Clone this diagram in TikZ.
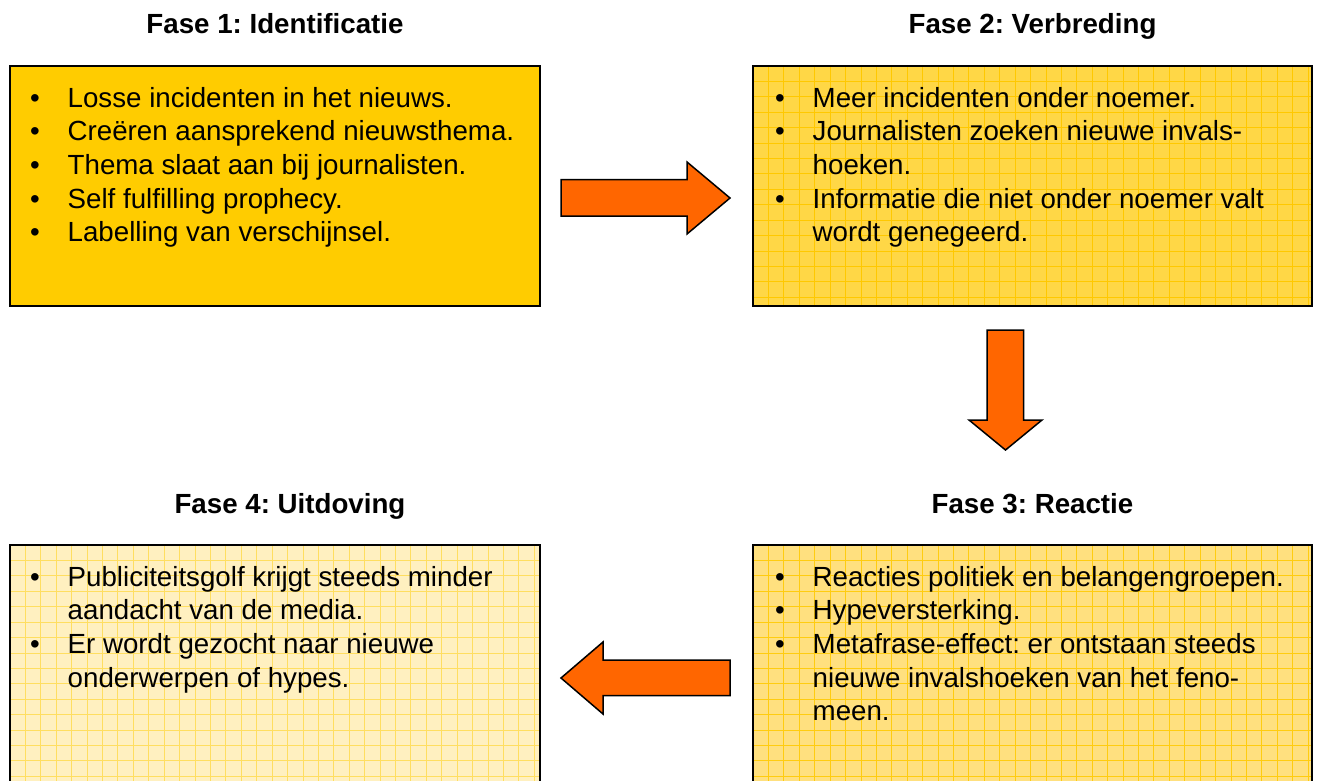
\documentclass[tikz,border=0pt]{standalone}
\usepackage{fontspec}
\setmainfont{Liberation Sans}
\usepackage{array}
\usetikzlibrary{calc}
\frenchspacing

\definecolor{goldA}{HTML}{FFCC00}
\definecolor{goldB}{HTML}{FFD746}
\definecolor{goldC}{HTML}{FFE07F}
\definecolor{goldD}{HTML}{FFF0C0}
\definecolor{gridB}{HTML}{FFC800}
\definecolor{gridC}{HTML}{FFCC10}
\definecolor{gridD}{HTML}{FFDE60}
\definecolor{blockorange}{HTML}{FF6600}

% bulleted list set as a top-aligned table: bullet column + text column
\newcommand\phaselist[1]{{\fontsize{27.7}{33.7}\selectfont
  \begin{tabular}[t]{@{}p{37.5pt}@{}l@{}}#1\end{tabular}}}
\newcommand\bul{\textbullet}

% faint squared paper inside a box node
\newcommand\papergrid[2]{%
  \begin{scope}
    \clip (#1.north west) rectangle (#1.south east);
    \foreach \i in {1,...,37}
      \draw[gridline, #2] ($(#1.north west)+(\i*15.42,0)$) -- ($(#1.south west)+(\i*15.42,0)$);
    \foreach \j in {1,...,17}
      \draw[gridline, #2] ($(#1.north west)+(0,\j*15.42)$) -- ($(#1.north east)+(0,\j*15.42)$);
  \end{scope}
  \draw[frame] (#1.north west) rectangle (#1.south east);}

\tikzset{
  phasebox/.style={rectangle, draw=black, line width=2pt, outer sep=0pt, inner sep=0pt},
  frame/.style={draw=black, line width=2pt},
  gridline/.style={line width=0.9pt},
  heading/.style={font=\bfseries\fontsize{27.7}{33}\selectfont, anchor=base, inner sep=0pt},
  listtext/.style={anchor=base west, inner sep=0pt},
  blockarrow/.style={fill=blockorange, draw=black, line width=1.5pt, line join=miter},
}

\begin{document}
\begin{tikzpicture}[x=1pt, y=-1pt]
\useasboundingbox (0,0) rectangle (1317,780);
\clip (0,0) rectangle (1317,780);

% headings
\node[heading] (h1) at (275,33) {Fase 1: Identificatie};
\node[heading] (h2) at (1032.5,33) {Fase 2: Verbreding};
\node[heading] (h3) at (1032.5,513) {Fase 3: Reactie};
\node[heading] (h4) at (290,513) {Fase 4: Uitdoving};

% phase boxes
\node[phasebox, fill=goldA, minimum width=530pt, minimum height=240pt] (b1) at (275,186) {};
\node[phasebox, fill=goldB, minimum width=559pt, minimum height=240pt] (b2) at (1032.5,186) {};
\node[phasebox, fill=goldC, minimum width=559pt, minimum height=260pt] (b3) at (1032.5,675) {};
\node[phasebox, fill=goldD, minimum width=530pt, minimum height=260pt] (b4) at (275,675) {};

\papergrid{b2}{gridB}
\papergrid{b3}{gridC}
\papergrid{b4}{gridD}

% box contents
\node[listtext] (t1) at ([xshift=20pt,yshift=-41pt]b1.north west) {\phaselist{
  \bul & Losse incidenten in het nieuws.\\
  \bul & Creëren aansprekend nieuwsthema.\\
  \bul & Thema slaat aan bij journalisten.\\
  \bul & Self fulfilling prophecy.\\
  \bul & Labelling van verschijnsel.}};

\node[listtext] (t2) at ([xshift=22pt,yshift=-41pt]b2.north west) {\phaselist{
  \bul & Meer incidenten onder noemer.\\
  \bul & Journalisten zoeken nieuwe invals-\\
       & hoeken.\\
  \bul & Informatie die niet onder noemer valt\\
       & wordt genegeerd.}};

\node[listtext] (t3) at ([xshift=22pt,yshift=-41pt]b3.north west) {\phaselist{
  \bul & Reacties politiek en belangengroepen.\\
  \bul & Hypeversterking.\\
  \bul & Metafrase-effect: er ontstaan steeds\\
       & nieuwe invalshoeken van het feno-\\
       & meen.}};

\node[listtext] (t4) at ([xshift=20pt,yshift=-41pt]b4.north west) {\phaselist{
  \bul & Publiciteitsgolf krijgt steeds minder\\
       & aandacht van de media.\\
  \bul & Er wordt gezocht naar nieuwe\\
       & onderwerpen of hypes.}};

% block arrows between the phases
\draw[blockarrow] (561,179.5) -- (687,179.5) -- (687,162) -- (730,198)
  -- (687,234) -- (687,216) -- (561,216) -- cycle;
\draw[blockarrow] (987,330) -- (1023.5,330) -- (1023.5,420) -- (1042,420)
  -- (1005.5,450) -- (969,420) -- (987,420) -- cycle;
\draw[blockarrow] (561,678) -- (603,642) -- (603,660) -- (730,660)
  -- (730,695.5) -- (603,695.5) -- (603,714) -- cycle;
\end{tikzpicture}
\end{document}
